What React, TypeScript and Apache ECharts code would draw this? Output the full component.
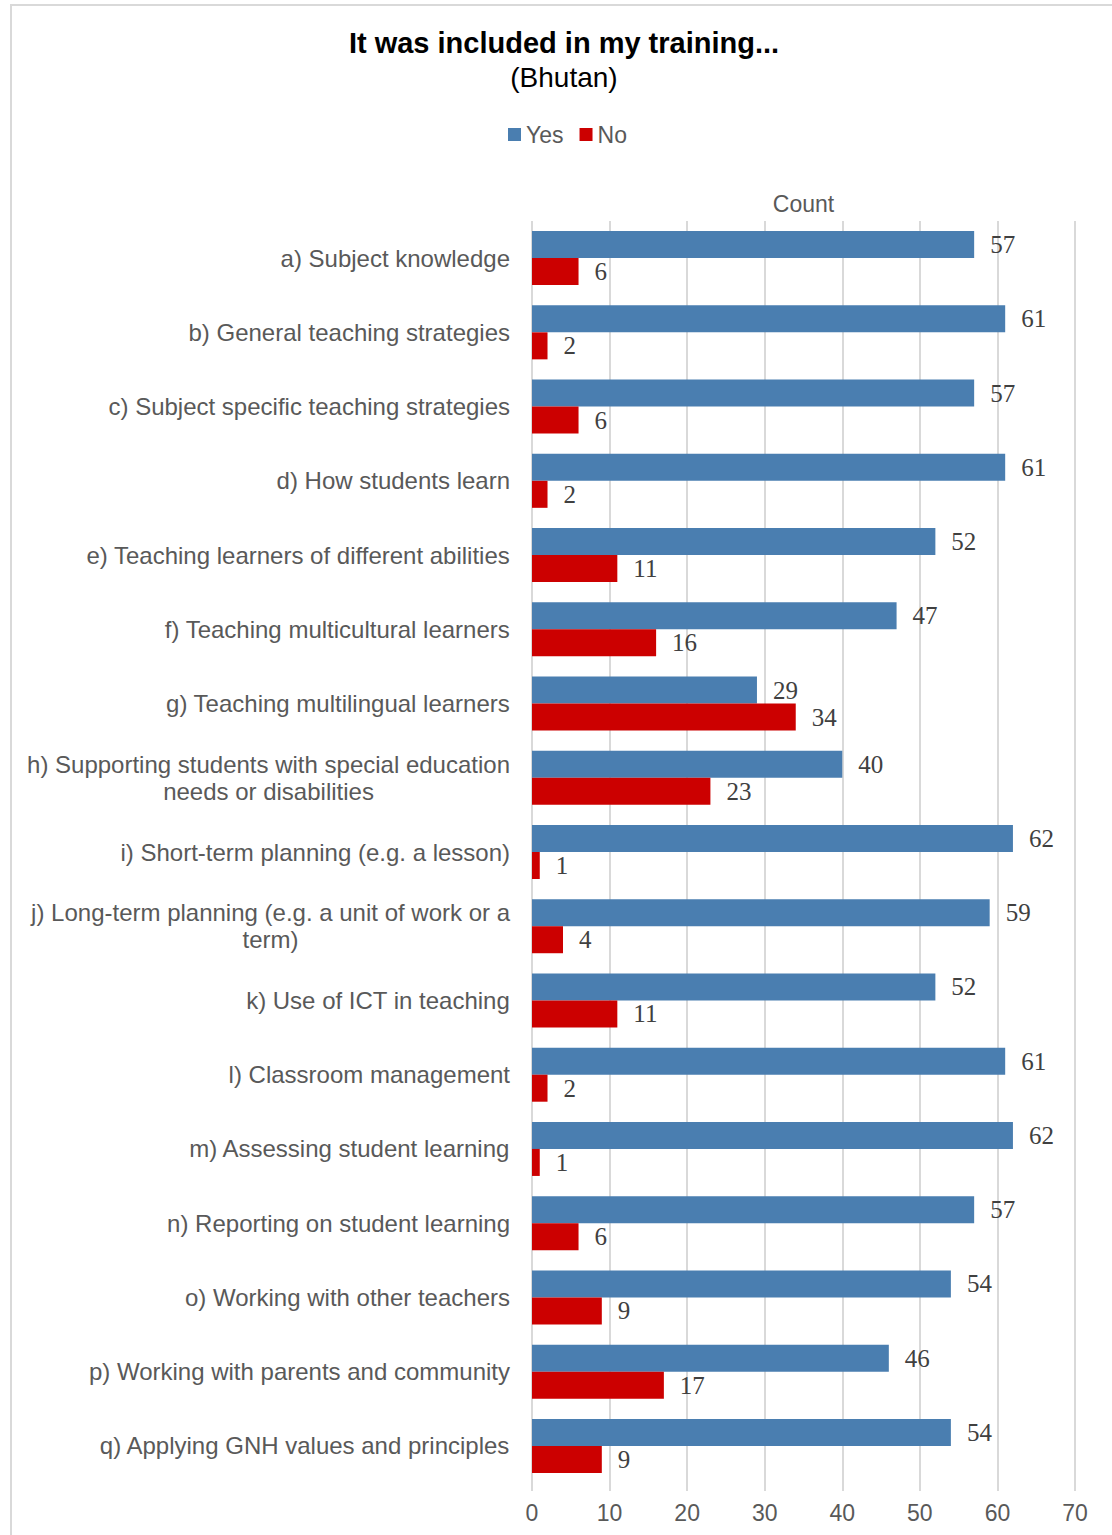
import React, { useEffect, useRef } from "react";
import * as echarts from "echarts";

const categories = [
  "a) Subject knowledge",
  "b) General teaching strategies",
  "c) Subject specific teaching strategies",
  "d) How students learn",
  "e) Teaching learners of different abilities",
  "f) Teaching multicultural learners",
  "g) Teaching multilingual learners",
  "h) Supporting students with special education needs or disabilities",
  "i) Short-term planning (e.g. a lesson)",
  "j) Long-term planning (e.g. a unit of work or a term)",
  "k) Use of ICT in teaching",
  "l) Classroom management",
  "m) Assessing student learning",
  "n) Reporting on student learning",
  "o) Working with other teachers",
  "p) Working with parents and community",
  "q) Applying GNH values and principles",
];
const yesValues = [57, 61, 57, 61, 52, 47, 29, 40, 62, 59, 52, 61, 62, 57, 54, 46, 54];
const noValues = [6, 2, 6, 2, 11, 16, 34, 23, 1, 4, 11, 2, 1, 6, 9, 17, 9];
const xTicks = { min: 0, max: 70, interval: 10 };

const SANS = "'Liberation Sans', Arial, sans-serif";
const SERIF = "'Liberation Serif', 'Times New Roman', serif";
const GRAY = "#595959";
const LABEL_FONT_SIZE = 24;
const LABEL_MAX_WIDTH = 500;

let measureCtx: CanvasRenderingContext2D | null = null;
function measure(text: string): number {
  if (!measureCtx) {
    const c = document.createElement("canvas");
    measureCtx = c.getContext("2d");
  }
  if (!measureCtx) return text.length * LABEL_FONT_SIZE * 0.5;
  measureCtx.font = `${LABEL_FONT_SIZE}px ${SANS}`;
  return measureCtx.measureText(text).width;
}

function wrapLabel(text: string): string {
  const words = text.split(" ");
  const lines: string[] = [];
  let cur = "";
  for (const w of words) {
    const trial = cur ? cur + " " + w : w;
    if (cur && measure(trial) > LABEL_MAX_WIDTH) {
      lines.push(cur);
      cur = w;
    } else {
      cur = trial;
    }
  }
  if (cur) lines.push(cur);
  return lines.map((l) => `{c|${l}}`).join("\n");
}

export default function App() {
  const ref = useRef<HTMLDivElement>(null);
  useEffect(() => {
    if (!ref.current) return;
    const chart = echarts.init(ref.current, null, { renderer: "svg" });
    const labelStyle = {
      show: true,
      position: "right" as const,
      distance: 16,
      fontFamily: SERIF,
      fontSize: 25,
      color: "#404040",
    };
    chart.setOption({
      animation: false,
      backgroundColor: "#ffffff",
      graphic: [
        {
          type: "rect",
          shape: { x: 11, y: 5, width: 1130, height: 1560 },
          style: { fill: "none", stroke: "#d9d9d9", lineWidth: 2 },
          silent: true,
        },
        {
          type: "text",
          x: 564,
          y: 43,
          style: {
            text: "It was included in my training...",
            fontFamily: SANS,
            fontWeight: "bold",
            fontSize: 29,
            fill: "#000000",
            textAlign: "center",
            textVerticalAlign: "middle",
          },
        },
        {
          type: "text",
          x: 564,
          y: 77,
          style: {
            text: "(Bhutan)",
            fontFamily: SANS,
            fontSize: 28,
            fill: "#000000",
            textAlign: "center",
            textVerticalAlign: "middle",
          },
        },
        {
          type: "text",
          x: 803.5,
          y: 204,
          style: {
            text: "Count",
            fontFamily: SANS,
            fontSize: 23,
            fill: GRAY,
            textAlign: "center",
            textVerticalAlign: "middle",
          },
        },
      ],
      legend: {
        top: 118,
        left: 503,
        icon: "rect",
        itemWidth: 13,
        itemHeight: 13,
        itemGap: 16,
        textStyle: { fontFamily: SANS, fontSize: 23, color: GRAY },
        data: ["Yes", "No"],
      },
      grid: { left: 532, right: 37, top: 221, bottom: 52, containLabel: false },
      xAxis: {
        type: "value",
        min: xTicks.min,
        max: xTicks.max,
        interval: xTicks.interval,
        axisLine: { show: false },
        axisTick: { show: true, length: 8, lineStyle: { color: "#d9d9d9", width: 2 } },
        axisLabel: { fontFamily: SANS, fontSize: 23, color: GRAY, margin: 18 },
        splitLine: { show: true, lineStyle: { color: "#d9d9d9", width: 2 } },
      },
      yAxis: {
        type: "category",
        inverse: true,
        data: categories,
        axisLine: { show: false },
        axisTick: { show: false },
        axisLabel: {
          fontFamily: SANS,
          fontSize: LABEL_FONT_SIZE,
          color: GRAY,
          margin: 22,
          align: "right",
          lineHeight: 27,
          formatter: (v: string) => wrapLabel(v),
          rich: {
            c: {
              align: "center",
              fontFamily: SANS,
              fontSize: LABEL_FONT_SIZE,
              color: GRAY,
              lineHeight: 27,
            },
          },
        },
      },
      series: [
        {
          name: "Yes",
          type: "bar",
          data: yesValues,
          barWidth: 27,
          barGap: "0%",
          itemStyle: { color: "#4a7eb0" },
          label: labelStyle,
        },
        {
          name: "No",
          type: "bar",
          data: noValues,
          barWidth: 27,
          barGap: "0%",
          itemStyle: { color: "#cc0000" },
          label: labelStyle,
        },
      ],
    });
    return () => chart.dispose();
  }, []);
  return (
    <div
      ref={ref}
      style={{ position: "fixed", left: 0, top: 0, width: 1112, height: 1535 }}
    />
  );
}
